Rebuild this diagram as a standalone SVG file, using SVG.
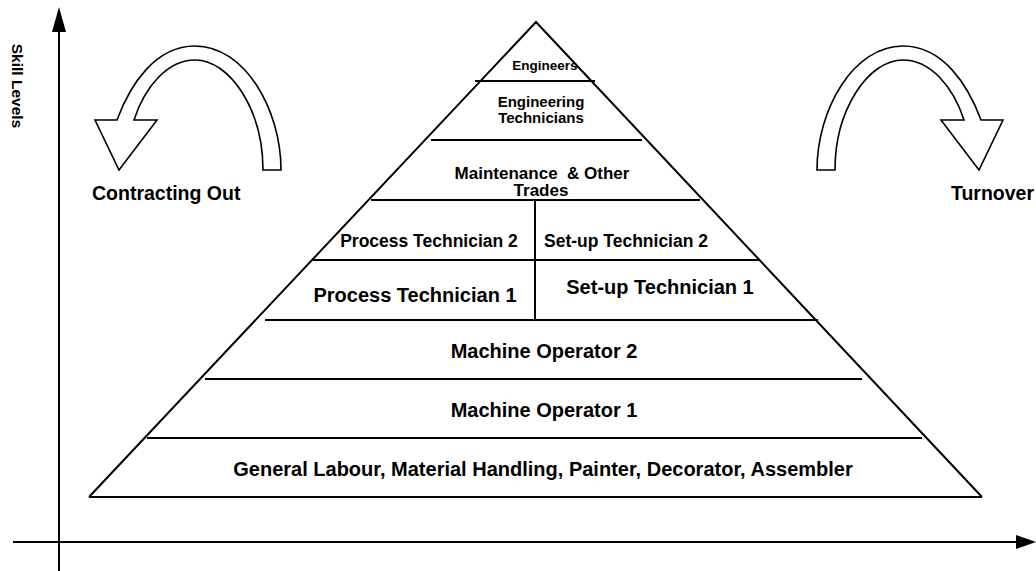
<svg xmlns="http://www.w3.org/2000/svg" xmlns:xlink="http://www.w3.org/1999/xlink" width="1036" height="571" viewBox="0 0 1036 571">
  <style>
    text { font-family: "Liberation Sans", Arial, Helvetica, sans-serif; font-weight: bold; fill: #000; }
    .c { text-anchor: middle; }
    .tier { stroke: #000; stroke-width: 2; fill: none; }
    .axis { stroke: #000; stroke-width: 2; fill: none; }
    .head { fill: #000; stroke: none; }
    .curl { fill: #fff; stroke: #000; stroke-width: 1.6; stroke-linejoin: miter; }
  </style>
  <defs>
    <!-- curved block arrow: tail on the right, head pointing down on the left -->
    <path id="curl" class="curl" d="M 263,170 L 281,170 C 281,110 245,46 195,46 C 155,46 130,85 117,120 L 95,120 L 119,170 L 157,120 L 134,120 C 145,86 168,60 195,60 C 230,60 263,110 263,170 Z"/>
  </defs>

  <rect width="1036" height="571" fill="#fff"/>

  <!-- axes -->
  <g id="connectors">
    <line class="axis" x1="59" y1="30" x2="59" y2="571"/>
    <polygon class="head" points="59,7 52,32 66,32"/>
    <line class="axis" x1="13" y1="542" x2="1017" y2="542"/>
    <polygon class="head" points="1036,542 1016,535 1016,549"/>
  </g>

  <g id="axis-label">
    <text transform="translate(12,86) rotate(90)" class="c" font-size="15.5">Skill Levels</text>
  </g>

  <!-- pyramid outline -->
  <g id="pyramid">
    <polyline class="tier" points="89,497 536,22 982,497"/>
  </g>

  <g id="engineers">
    <line class="tier" x1="475" y1="81" x2="595" y2="81"/>
    <text class="c" x="545" y="70" font-size="13.5">Engineers</text>
  </g>

  <g id="engineering-technicians">
    <line class="tier" x1="431" y1="140" x2="642" y2="140"/>
    <text class="c" x="541" y="107" font-size="15">Engineering</text>
    <text class="c" x="541" y="123" font-size="15">Technicians</text>
  </g>

  <g id="maintenance">
    <line class="tier" x1="371" y1="200" x2="700" y2="200"/>
    <text class="c" x="542" y="179" font-size="17" xml:space="preserve">Maintenance  &amp; Other</text>
    <text class="c" x="541" y="196" font-size="17">Trades</text>
  </g>

  <g id="technician-2">
    <line class="tier" x1="312" y1="260" x2="759" y2="260"/>
    <line class="tier" x1="535" y1="200" x2="535" y2="320"/>
    <text class="c" x="429" y="247" font-size="17.5">Process Technician 2</text>
    <text class="c" x="626" y="247" font-size="17.5">Set-up Technician 2</text>
  </g>

  <g id="technician-1">
    <line class="tier" x1="265" y1="320" x2="818" y2="320"/>
    <text class="c" x="415" y="302" font-size="20">Process Technician 1</text>
    <text class="c" x="660" y="294" font-size="20">Set-up Technician 1</text>
  </g>

  <g id="machine-operator-2">
    <line class="tier" x1="205" y1="379" x2="862" y2="379"/>
    <text class="c" x="544" y="358" font-size="20">Machine Operator 2</text>
  </g>

  <g id="machine-operator-1">
    <line class="tier" x1="147" y1="438" x2="922" y2="438"/>
    <text class="c" x="544" y="417" font-size="20">Machine Operator 1</text>
  </g>

  <g id="general-labour">
    <line class="tier" x1="89" y1="497" x2="982" y2="497"/>
    <text class="c" x="543" y="476" font-size="20">General Labour, Material Handling, Painter, Decorator, Assembler</text>
  </g>

  <g id="contracting-out">
    <use xlink:href="#curl" href="#curl"/>
    <text x="92" y="200" font-size="19.5">Contracting Out</text>
  </g>

  <g id="turnover">
    <use xlink:href="#curl" href="#curl" transform="translate(1098,0) scale(-1,1)"/>
    <text x="1034" y="200" font-size="19.5" text-anchor="end">Turnover</text>
  </g>
</svg>
